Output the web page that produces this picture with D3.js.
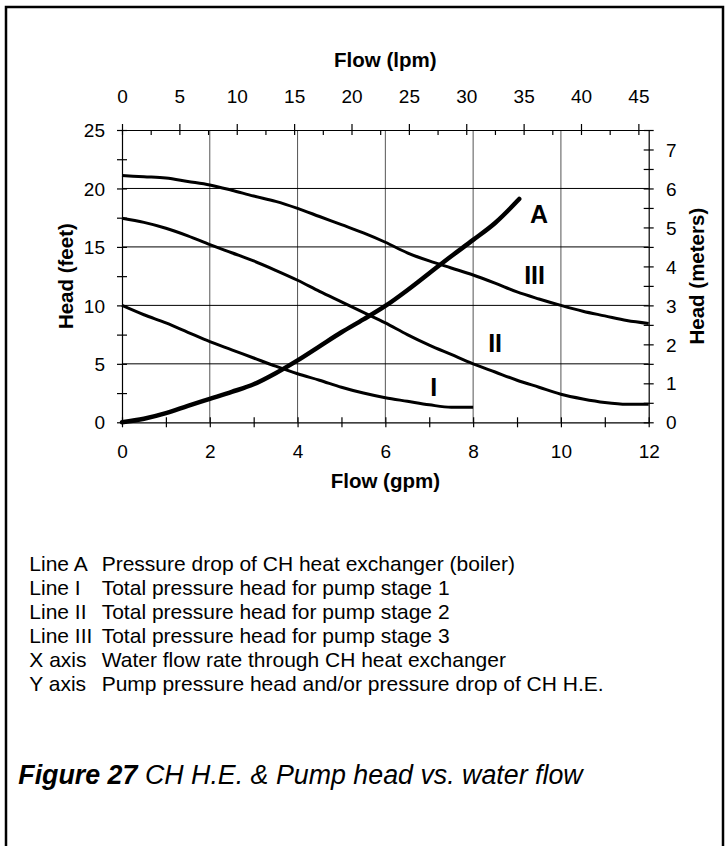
<!DOCTYPE html>
<html>
<head>
<meta charset="utf-8">
<script src="https://cdn.jsdelivr.net/npm/d3@7"></script>
<style>
  body { margin: 0; background: #fff; }
  svg { display: block; }
  text { font-family: "Liberation Sans", Arial, Helvetica, sans-serif; fill: #000; }
</style>
</head>
<body>
<svg id="chart" width="728" height="846"></svg>
<script>
// ---- data (flow in gpm, head in feet) ----
const flowFull   = [0,0.5,1,1.5,2,2.5,3,3.5,4,4.5,5,5.5,6,6.5,7,7.5,8,8.5,9,9.5,10,10.5,11,11.5,12];
const headStage3 = [21.1,21.0,20.9,20.6,20.3,19.85,19.35,18.9,18.3,17.6,16.9,16.2,15.4,14.5,13.8,13.2,12.6,11.9,11.15,10.55,10.0,9.5,9.1,8.7,8.45];
const headStage2 = [17.45,17.1,16.6,15.95,15.2,14.5,13.8,13.0,12.15,11.2,10.3,9.4,8.5,7.5,6.6,5.8,5.0,4.3,3.6,3.0,2.4,2.0,1.7,1.55,1.55];
const flowStage1 = [0,0.5,1,1.5,2,2.5,3,3.5,4,4.5,5,5.5,6,6.5,7,7.5,8];
const headStage1 = [10.0,9.2,8.5,7.7,6.9,6.2,5.5,4.8,4.15,3.6,3.0,2.5,2.1,1.8,1.5,1.28,1.28];
const flowHE     = [0,0.5,1,1.5,2,2.5,3,3.5,4,4.5,5,5.5,6,6.5,7,7.5,8,8.5,9,9.05];
const headHE     = [0,0.3,0.78,1.4,2.0,2.6,3.25,4.2,5.3,6.5,7.7,8.8,9.95,11.3,12.75,14.2,15.6,17.05,18.9,19.1];

// curve label anchors: [text, flow gpm, head ft]
const curveLabels = [["A", 9.5, 17.8], ["III", 9.4, 12.6], ["II", 8.5, 6.8], ["I", 7.1, 3.0]];

// axis ticks
const gpmTicks   = d3.range(0, 12.01, 1);
const lpmTicks   = d3.range(0, 45.01, 2.5);
const feetTicks  = d3.range(0, 25.01, 2.5);
const meterTicks = d3.range(0, 7.51, 0.5);
const gridGpm    = [2, 4, 6, 8, 10];
const gridFeet   = [5, 10, 15, 20];

// text block below the chart
const legendKeys  = ["Line A", "Line I", "Line II", "Line III", "X axis", "Y axis"];
const legendTexts = [
  "Pressure drop of CH heat exchanger (boiler)",
  "Total pressure head for pump stage 1",
  "Total pressure head for pump stage 2",
  "Total pressure head for pump stage 3",
  "Water flow rate through CH heat exchanger",
  "Pump pressure head and/or pressure drop of CH H.E."
];
const captionBold = "Figure 27";
const captionRest = " CH H.E. & Pump head vs. water flow";

// ---- layout ----
const L = 122, R = 648.7, T = 130, B = 422.3;
const svg = d3.select("#chart");

svg.append("rect").attr("x", 6).attr("y", 7).attr("width", 717).attr("height", 860)
  .attr("fill", "#fff").attr("stroke", "#000").attr("stroke-width", 2.5);

const x  = d3.scaleLinear().domain([0, 12]).range([L, R]);
const xL = d3.scaleLinear().domain([0, 45.9]).range([L, R]);
const y  = d3.scaleLinear().domain([0, 25]).range([B, T]);
const yM = d3.scaleLinear().domain([0, 7.5]).range([B, T]);

// gridlines
const grid = svg.append("g").attr("stroke", "#000").attr("stroke-width", 1);
grid.selectAll(".gv").data(gridGpm).join("line")
  .attr("x1", d => x(d)).attr("x2", d => x(d)).attr("y1", T).attr("y2", B).attr("stroke", "#555");
grid.selectAll(".gh").data(gridFeet).join("line")
  .attr("x1", L).attr("x2", R).attr("y1", d => y(d)).attr("y2", d => y(d));

const tickFont = 19;
function styleAxis(g) {
  g.select(".domain").attr("stroke", "#000").attr("stroke-width", 1.2);
  g.selectAll(".tick line").attr("stroke", "#000").attr("stroke-width", 1.2);
  g.selectAll("text").attr("font-size", tickFont).attr("font-family", null);
}

// bottom axis (gpm)
const gB = svg.append("g").attr("transform", `translate(0,${B})`)
  .call(d3.axisBottom(x).tickValues(gpmTicks).tickSizeOuter(0)
    .tickFormat(d => d % 2 === 0 ? d : ""));
styleAxis(gB);
gB.selectAll(".tick line").attr("y1", -5).attr("y2", 5);
gB.selectAll("text").attr("y", 36.2).attr("dy", null);

// top axis (lpm)
const gT = svg.append("g").attr("transform", `translate(0,${T})`)
  .call(d3.axisTop(xL).tickValues(lpmTicks).tickSizeOuter(0)
    .tickFormat(d => d % 5 === 0 ? d : ""));
styleAxis(gT);
gT.selectAll(".tick line").attr("y1", d => d % 5 === 0 ? -6 : 0).attr("y2", 5);
gT.selectAll("text").attr("y", -26.7).attr("dy", null);

// left axis (feet)
const gL = svg.append("g").attr("transform", `translate(${L},0)`)
  .call(d3.axisLeft(y).tickValues(feetTicks).tickSizeOuter(0)
    .tickFormat(d => d % 5 === 0 ? d : ""));
styleAxis(gL);
gL.selectAll(".tick line").attr("x1", -5).attr("x2", 5);
gL.selectAll("text").attr("x", -17).attr("dy", "0.35em");

// right axis (meters)
const gR = svg.append("g").attr("transform", `translate(${R},0)`)
  .call(d3.axisRight(yM).tickValues(meterTicks).tickSizeOuter(0)
    .tickFormat(d => Number.isInteger(d) ? d : ""));
styleAxis(gR);
gR.selectAll(".tick line").attr("x1", -5).attr("x2", 5);
gR.selectAll("text").attr("x", 17.3).attr("dy", "0.35em");

// axis titles
const titleFont = 20.5;
svg.append("text").attr("x", (L + R) / 2).attr("y", 67.3).attr("text-anchor", "middle")
  .attr("font-size", titleFont).attr("font-weight", "bold").text("Flow (lpm)");
svg.append("text").attr("x", (L + R) / 2).attr("y", 488).attr("text-anchor", "middle")
  .attr("font-size", titleFont).attr("font-weight", "bold").text("Flow (gpm)");
svg.append("text").attr("transform", `translate(73,${(T + B) / 2}) rotate(-90)`).attr("text-anchor", "middle")
  .attr("font-size", titleFont).attr("font-weight", "bold").text("Head (feet)");
svg.append("text").attr("transform", `translate(704,${(T + B) / 2}) rotate(-90)`).attr("text-anchor", "middle")
  .attr("font-size", titleFont).attr("font-weight", "bold").text("Head (meters)");

// curves
const line = d3.line().x(d => x(d[0])).y(d => y(d[1])).curve(d3.curveMonotoneX);
const series = [
  { pts: d3.zip(flowFull, headStage3), w: 3 },
  { pts: d3.zip(flowFull, headStage2), w: 3 },
  { pts: d3.zip(flowStage1, headStage1), w: 3 },
  { pts: d3.zip(flowHE, headHE), w: 4.5, cap: "round" }
];
svg.append("g").selectAll("path").data(series).join("path")
  .attr("d", d => line(d.pts))
  .attr("fill", "none").attr("stroke", "#000")
  .attr("stroke-width", d => d.w)
  .attr("stroke-linejoin", "round")
  .attr("stroke-linecap", d => d.cap || "butt");

// curve labels
svg.append("g").selectAll("text").data(curveLabels).join("text")
  .attr("x", d => x(d[1])).attr("y", d => y(d[2]))
  .attr("text-anchor", "middle").attr("dy", "0.36em")
  .attr("font-size", 25).attr("font-weight", "bold").text(d => d[0]);

// explanatory text
const legendFont = 21;
const lg = svg.append("g");
legendKeys.forEach((k, i) => {
  const yy = 570.7 + i * 24;
  lg.append("text").attr("x", 29.3).attr("y", yy).attr("font-size", legendFont).text(k);
  lg.append("text").attr("x", 101.7).attr("y", yy).attr("font-size", legendFont).text(legendTexts[i]);
});

// caption
const cap = svg.append("text").attr("x", 18.3).attr("y", 784).attr("font-size", 26.8).attr("font-style", "italic");
cap.append("tspan").attr("font-weight", "bold").text(captionBold);
cap.append("tspan").text(captionRest);
</script>
</body>
</html>
